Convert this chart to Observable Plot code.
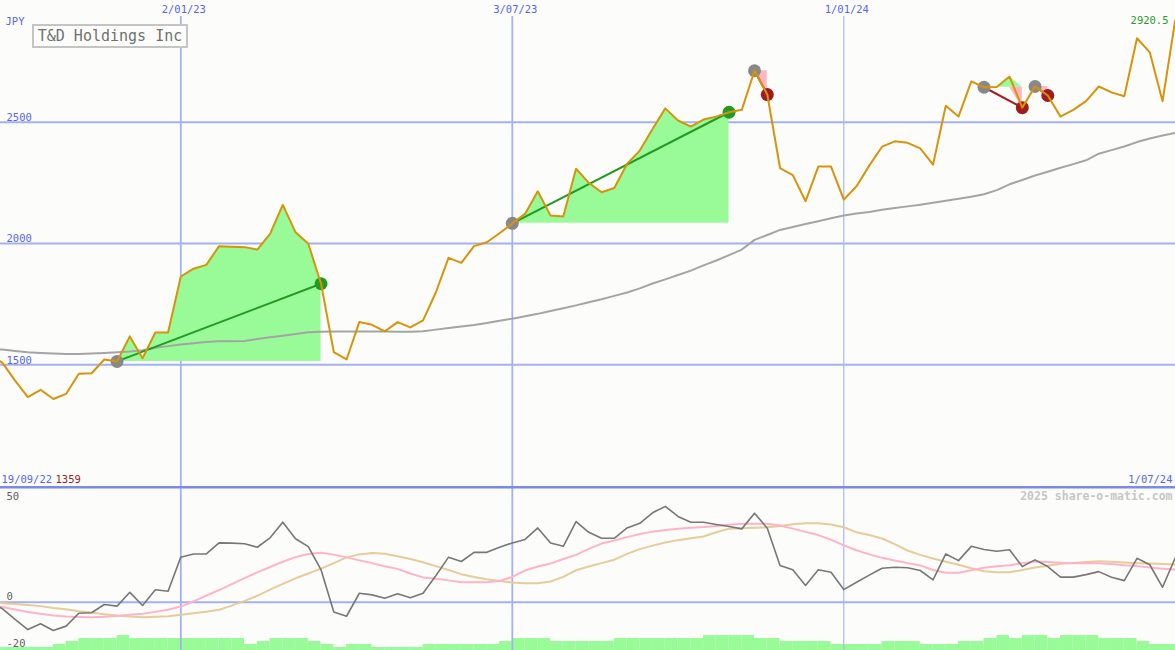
<!DOCTYPE html>
<html><head><meta charset="utf-8">
<script src="https://cdn.jsdelivr.net/npm/d3@7"></script>
<script src="https://cdn.jsdelivr.net/npm/@observablehq/plot@0.6"></script>
<style>
html,body{margin:0;padding:0;background:#fcfdfa;}
#wrap{position:relative;width:1175px;height:650px;overflow:hidden;background:#fcfdfa;}
#wrap svg{display:block;}
#title{position:absolute;left:32px;top:24px;width:156px;height:24px;box-sizing:border-box;border:2px solid #c4c4c4;
  font:15px "DejaVu Sans Mono",monospace;color:#707070;line-height:20px;text-align:center;background:#fcfdfa;}
</style></head>
<body><div id="wrap"><div id="chart"></div><div id="title">T&amp;D Holdings Inc</div></div>
<script>
// ---- data (weekly, starting 19/09/22) ----
const startDate = "2022-09-19";
const endLabel = "1/07/24";
const price = [
 1540,1509,1435,1367,1397,1359,1380,1463,1465,1522,
 1514,1617,1527,1633,1633,1864,1896,1912,1989,1987,
 1985,1975,2040,2159,2046,1999,1834,1552,1522,1676,
 1665,1638,1676,1654,1683,1798,1941,1920,1989,2005,
 2042,2083,2122,2215,2115,2111,2308,2250,2211,2229,
 2328,2383,2472,2557,2507,2482,2511,2523,2541,2551,
 2712,2614,2311,2282,2174,2317,2317,2181,2236,2321,
 2399,2421,2415,2392,2325,2568,2523,2668,2644,2645,
 2688,2560,2647,2610,2523,2551,2587,2647,2623,2607,
 2846,2788,2586,2920.5];
const movingAvg = [
 1565,1563,1557,1552,1549,1547,1545,1545,1547,1549,
 1552,1555,1560,1570,1577,1584,1589,1594,1597,1597,
 1598,1606,1614,1620,1627,1634,1636,1637,1637,1637,
 1637,1637,1636,1636,1638,1645,1652,1658,1664,1672,
 1682,1690,1700,1710,1722,1733,1745,1758,1770,1784,
 1798,1815,1835,1852,1870,1888,1910,1930,1952,1975,
 2015,2035,2056,2068,2080,2092,2104,2115,2124,2130,
 2139,2146,2153,2160,2168,2176,2184,2193,2203,2220,
 2244,2262,2280,2296,2312,2327,2343,2370,2385,2400,
 2418,2433,2445,2456];
const oscGrey = [
 0,-2.8,-7.5,-11.9,-9.4,-12.3,-10.4,-4.8,-4.6,-1,
 -1.7,4.3,-1.4,5.4,4.8,19.6,21,21,25.8,25.7,
 25.4,23.9,28,34.8,27.6,24.2,14.1,-4.3,-6.1,3.9,
 3.2,1.7,3.7,1.9,3.9,11.5,19.6,17.7,21.7,21.7,
 23.9,25.8,27.3,32.3,25.8,24.3,35.1,30.4,27.8,27.8,
 32.3,34.3,38.9,41.7,37.3,34.8,34.8,33.8,32.9,31.9,
 38.7,32.2,16,14.1,7.3,14.1,13,5.5,8.7,11.8,
 14.8,15.2,15,13.8,9.7,21,18.1,24.3,22.9,22.2,
 22.8,15.5,18.4,15.5,10.9,10.9,12,13.3,10.9,9.4,
 19.1,16.3,6.5,19.3];
const oscPink = [
 -1.4,-2.1,-3.2,-4.3,-5,-5.8,-6.2,-6.4,-6.5,-6.3,
 -6,-5.5,-5,-4.2,-3.3,-1.9,0.4,2.9,5.3,7.9,
 10.5,13,15.3,17.6,19.6,21,21.5,20.7,19.5,18.2,
 17,15.6,14.5,12.5,10.8,10.2,9.5,8.7,8.7,8.7,
 9.2,11,13.8,15.5,16.8,18.8,20.6,23.2,25.5,26.8,
 28.3,29.7,30.7,31.4,32,32.4,32.7,33.2,33.7,34.1,
 34.1,34.1,33.4,32,30.6,29.2,27.2,24.7,22.6,20.8,
 19.3,18.1,17,16,14,12.8,12.8,13.9,15,15.6,
 16.1,17,17.7,17.5,17.2,17,17,17,16.6,16.1,
 15.7,15.1,14.6,14.2];
const oscTan = [
 0,-0.4,-0.8,-1.2,-1.7,-2.5,-3.1,-3.9,-4.5,-5.2,
 -5.8,-6.2,-6.5,-6.3,-6.1,-5.4,-4.8,-4.1,-3.3,-1.5,
 0.6,2.8,5.5,8,10.4,12.5,14.6,17,19.5,20.8,
 21.4,21.1,20,18.8,17.4,15.7,14,12.2,11,10,
 9.2,8.6,8.3,8.3,9,11,13.9,15.5,17,18.5,
 21,23.1,24.6,26,27,27.8,28.6,30.4,32,32.2,
 32.4,32.6,33.2,33.9,34.3,34.3,33.8,32.6,30.4,29.2,
 27.7,25.3,22.5,20.6,19,17.6,16.3,14.8,13.5,13,
 13,14,15.1,15.9,16.7,17.1,17.5,17.8,17.6,17.3,
 17,16.8,16.6,16.4];
const volumeLevel = [
 1,1,1,1,1,2,3,4,4,4,
 5,4,4,4,4,4,4,4,4,4,
 2,3,4,4,4,3,2,1,2,2,
 1,1,1,1,2,2,2,2,2,2,
 3,4,4,4,3,3,3,3,3,4,
 4,4,4,4,4,4,5,5,5,5,
 4,4,3,3,3,3,2,2,2,2,
 3,3,3,2,2,2,3,3,4,5,
 4,5,5,4,5,5,5,4,4,4,
 3,2,2,2];
const buyWeeks  = [10, 41, 60, 78, 82];
const sellWeeks = [26, 58, 61, 81, 83];
const dateTicks = ["2023-01-02", "2023-07-03", "2024-01-01"];
const dateTickLabels = ["2/01/23", "3/07/23", "1/01/24"];
const priceTicks = [1500, 2000, 2500];
const oscTopTick = 50, oscZeroTick = 0, oscLowTick = -20;

// ---- derived tables ----
const WEEK = 7 * 864e5;
const t0 = new Date(startDate + "T00:00:00Z").getTime();
const rows = price.map((p, i) => ({
  date: new Date(t0 + i * WEEK), next: new Date(t0 + (i + 1) * WEEK),
  price: p, ma: movingAvg[i], grey: oscGrey[i], pink: oscPink[i], tan: oscTan[i], vol: volumeLevel[i]
}));
const trades = buyWeeks.map((b, k) => {
  const s = sellWeeks[k];
  return {k, buyDate: rows[b].date, sellDate: rows[s].date, entry: price[b], exit: price[s], win: price[s] > price[b]};
});
const fillRows = trades.flatMap(t => rows.filter((r, i) => i >= buyWeeks[t.k] && i <= sellWeeks[t.k])
  .map(r => ({k: t.k, date: r.date, entry: t.entry, price: r.price})));
const tickDates = dateTicks.map(d => new Date(d + "T00:00:00Z"));
const fmt = d3.utcFormat("%d/%m/%y");

const xDomain = [new Date("2022-09-25T00:00:00Z"), new Date("2024-07-01T03:00:00Z")];
const FONT = "'DejaVu Sans Mono', monospace";
const BLUE = "#5565ee", GRID = "#a3b1f0";
const majorDates = tickDates.slice(0, 2), minorDates = tickDates.slice(2);

const main = Plot.plot({
  width: 1175, height: 484, margin: 0,
  x: {type: "utc", domain: xDomain, axis: null},
  y: {domain: [1006.6, 3001.6], axis: null},
  style: {background: "#fcfdfa", fontFamily: FONT, fontSize: "10.5px", overflow: "hidden"},
  marks: [
    Plot.ruleY(priceTicks, {stroke: GRID, strokeWidth: 2}),
    Plot.ruleX(majorDates, {stroke: GRID, strokeWidth: 1.8, insetTop: 16}),
    Plot.ruleX(minorDates, {stroke: "#aab6ee", strokeWidth: 1.2, insetTop: 16}),
    Plot.areaY(fillRows, {x: "date", y1: "entry", y2: d => Math.max(d.price, d.entry), z: "k", fill: "#98fb98"}),
    Plot.areaY(fillRows, {x: "date", y1: d => Math.min(d.price, d.entry), y2: "entry", z: "k", fill: "#ffb6c1"}),
    Plot.text(priceTicks, {y: d => d, text: d => String(d), frameAnchor: "left", dx: 6, dy: -1, lineAnchor: "bottom", fill: BLUE}),
    Plot.text(tickDates, {x: d => d, text: (d, i) => dateTickLabels[i], frameAnchor: "top", dx: 3, dy: 9, lineAnchor: "middle", fill: BLUE}),
    Plot.line(rows, {x: "date", y: "ma", stroke: "#a4a4a4", strokeWidth: 2}),
    Plot.link(trades, {x1: "buyDate", y1: "entry", x2: "sellDate", y2: "exit", stroke: d => d.win ? "#229922" : "#a01c1c", strokeWidth: 2}),
    Plot.dot(trades, {x: "buyDate", y: "entry", r: 6.5, fill: "#888888"}),
    Plot.dot(trades.filter(t => t.win), {x: "sellDate", y: "exit", r: 6.5, fill: "#229922"}),
    Plot.dot(trades.filter(t => !t.win), {x: "sellDate", y: "exit", r: 6.5, fill: "#a01c1c"}),
    Plot.line(rows, {x: "date", y: "price", stroke: "#d8930c", strokeWidth: 2}),
    Plot.text(["JPY"], {frameAnchor: "top-left", dx: 5, dy: 21, lineAnchor: "middle", fill: BLUE}),
    Plot.text([rows[rows.length - 1]], {y: "price", text: d => String(d.price.toFixed(1)), frameAnchor: "right", dx: -7, lineAnchor: "middle", fill: "#2a9a2a"}),
    Plot.text([fmt(rows[0].date)], {frameAnchor: "bottom-left", dx: 1, dy: -5, lineAnchor: "middle", fill: BLUE}),
    Plot.text([String(d3.min(price))], {frameAnchor: "bottom-left", dx: 55, dy: -5, lineAnchor: "middle", fill: "#a01c1c"}),
    Plot.text([endLabel], {frameAnchor: "bottom-right", dx: -3, dy: -5, lineAnchor: "middle", fill: BLUE})
  ]
});

const lower = Plot.plot({
  width: 1175, height: 166, margin: 0,
  x: {type: "utc", domain: xDomain, axis: null},
  y: {domain: [-21, 51.2], axis: null},
  style: {background: "#fcfdfa", fontFamily: FONT, fontSize: "10.5px", overflow: "hidden"},
  marks: [
    Plot.rect(rows, {x1: "date", x2: "next", y1: -21, y2: d => -21 + 1.3 * d.vol, fill: "#98fb98"}),
    Plot.ruleX(majorDates, {stroke: GRID, strokeWidth: 1.8}),
    Plot.ruleX(minorDates, {stroke: "#aab6ee", strokeWidth: 1.2}),
    Plot.ruleY([oscZeroTick], {stroke: GRID, strokeWidth: 2}),
    Plot.ruleY([oscTopTick], {stroke: "#7b8ae8", strokeWidth: 2.5}),
    Plot.line(rows, {x: "date", y: "tan", stroke: "#e6cc98", strokeWidth: 2}),
    Plot.line(rows, {x: "date", y: "pink", stroke: "#ffb3c8", strokeWidth: 2}),
    Plot.line(rows, {x: "date", y: "grey", stroke: "#777777", strokeWidth: 1.6}),
    Plot.text([oscTopTick], {y: d => d, text: d => String(d), frameAnchor: "left", dx: 6, dy: 9, lineAnchor: "middle", fill: "#606060"}),
    Plot.text([oscZeroTick], {y: d => d, text: d => String(d), frameAnchor: "left", dx: 6, dy: -6, lineAnchor: "middle", fill: "#606060"}),
    Plot.text([oscLowTick], {y: d => d, text: d => String(d), frameAnchor: "left", dx: 6, dy: -5, lineAnchor: "middle", fill: "#606060"}),
    Plot.text(["2025 share-o-matic.com"], {frameAnchor: "top-right", dx: -3, dy: 12, lineAnchor: "middle", fill: "#c6c6c6", fontWeight: "bold", fontSize: 11.5})
  ]
});

const chart = document.getElementById("chart");
chart.appendChild(main);
chart.appendChild(lower);
</script>
</body></html>
